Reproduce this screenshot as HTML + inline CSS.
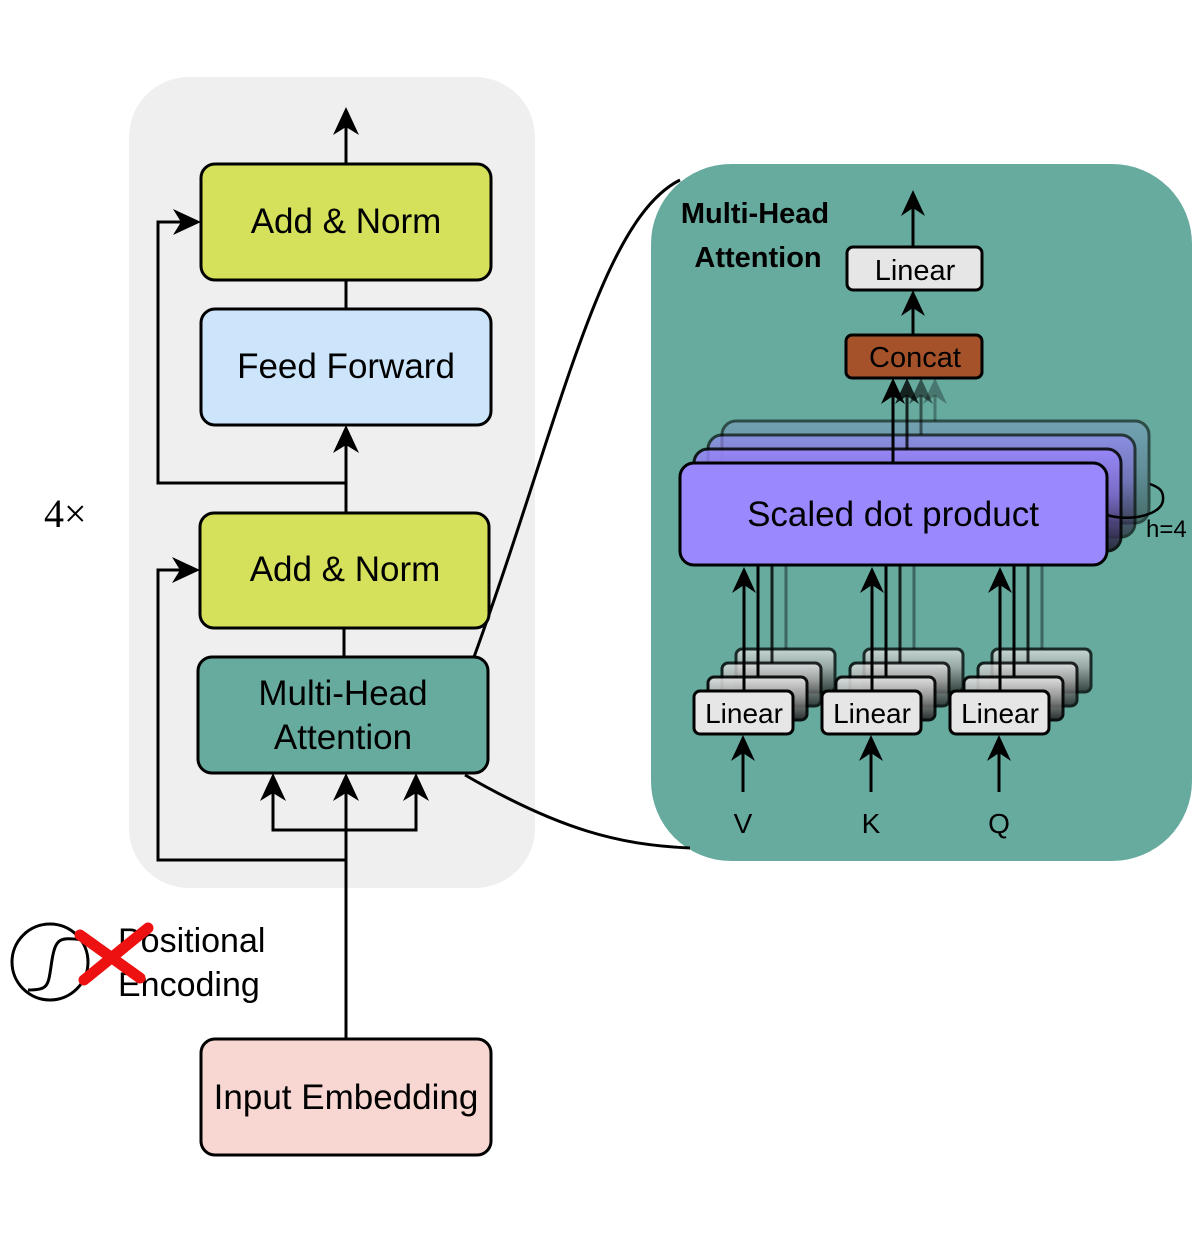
<!DOCTYPE html>
<html><head><meta charset="utf-8"><style>
html,body{margin:0;padding:0;background:#fff}
svg{display:block}
text{font-family:"Liberation Sans",sans-serif}
text.serif{font-family:"Liberation Serif",serif}
</style></head><body>
<svg width="1196" height="1233" viewBox="0 0 1196 1233" xmlns="http://www.w3.org/2000/svg">
<defs>
<linearGradient id="gp" x1="0" y1="0" x2="0" y2="1"><stop offset="0" stop-color="#9a88fe"/><stop offset="0.45" stop-color="#7d6ccc"/><stop offset="1" stop-color="#1d1a2a"/></linearGradient>
<linearGradient id="gb" x1="0" y1="0" x2="0" y2="1"><stop offset="0" stop-color="#7d9cc4"/><stop offset="0.5" stop-color="#5a7590"/><stop offset="1" stop-color="#2a3a3a"/></linearGradient>
<linearGradient id="gl" x1="0" y1="0" x2="0" y2="1"><stop offset="0" stop-color="#e6e6e6"/><stop offset="0.4" stop-color="#aaaaaa"/><stop offset="1" stop-color="#222"/></linearGradient>
</defs>
<rect x="129" y="77" width="406" height="811" rx="60" fill="#efefef"/>
<rect x="651" y="164" width="541" height="697" rx="80" fill="#67ab9f"/>
<path d="M474,657 C560,420 600,220 680,180" fill="none" stroke="#000" stroke-width="3"/>
<path d="M465,775 C560,830 620,845 690,848" fill="none" stroke="#000" stroke-width="3"/>

<g stroke="#000" stroke-width="3" fill="none">
<line x1="346" y1="164" x2="346" y2="125"/>
<line x1="346" y1="280" x2="346" y2="309"/>
<line x1="346" y1="513" x2="346" y2="440"/>
<polyline points="346,483 158,483 158,222 185,222"/>
<line x1="344" y1="628" x2="344" y2="657"/>
<polyline points="346,860 158,860 158,570 184,570"/>
<line x1="346" y1="1039" x2="346" y2="790"/>
<polyline points="273,790 273,830 416,830 416,790"/>
</g>
<g fill="#000">
<polygon points="346,107 359,135 346,127 333,135"/>
<polygon points="346,425 359,453 346,445 333,453"/>
<polygon points="201,222 173,209 181,222 173,235"/>
<polygon points="200,570 172,557 180,570 172,583"/>
<polygon points="273,773 286,801 273,793 260,801"/>
<polygon points="346,773 359,801 346,793 333,801"/>
<polygon points="416,773 429,801 416,793 403,801"/>
</g>

<g stroke="#000" stroke-width="3">
<rect x="201" y="164" width="290" height="116" rx="14" fill="#d5e15a"/>
<rect x="201" y="309" width="290" height="116" rx="14" fill="#cce5fb"/>
<rect x="200" y="513" width="289" height="115" rx="14" fill="#d5e15a"/>
<rect x="198" y="657" width="290" height="116" rx="14" fill="#67ab9f"/>
<rect x="201" y="1039" width="290" height="116" rx="14" fill="#f8d7d3"/>
</g>
<g font-size="35" text-anchor="middle" fill="#000">
<text x="346" y="233">Add &amp; Norm</text>
<text x="346" y="378">Feed Forward</text>
<text x="345" y="581">Add &amp; Norm</text>
<text x="343" y="705">Multi-Head</text>
<text x="343" y="749">Attention</text>
<text x="346" y="1109">Input Embedding</text>
</g>
<text class="serif" x="44" y="527" font-size="40">4×</text>

<circle cx="50" cy="962" r="38" fill="none" stroke="#000" stroke-width="3"/>
<path d="M28,990 C50,990 48,985 52,960 C56,935 62,938 86,940" fill="none" stroke="#000" stroke-width="3"/>
<text x="118" y="952" font-size="34">Positional</text>
<text x="118" y="996" font-size="34">Encoding</text>
<g stroke="#ee1111" stroke-width="11" stroke-linecap="round">
<line x1="80" y1="935" x2="140" y2="978"/>
<line x1="148" y1="928" x2="84" y2="980"/>
</g>

<text x="755" y="223" font-size="29" font-weight="bold" text-anchor="middle">Multi-Head</text>
<text x="758" y="267" font-size="29" font-weight="bold" text-anchor="middle">Attention</text>
<g stroke="#000" stroke-width="3"><line x1="913" y1="247" x2="913" y2="205"/><line x1="913" y1="335" x2="913" y2="305"/></g>
<polygon points="913,190 925,216 913,208 901,216" fill="#000"/>
<polygon points="913,290 925,316 913,308 901,316" fill="#000"/>
<rect x="847" y="247" width="135" height="43" rx="6" fill="#e6e6e6" stroke="#000" stroke-width="3"/>
<text x="915" y="280" font-size="29" text-anchor="middle">Linear</text>
<rect x="846" y="335" width="136" height="43" rx="6" fill="#a5522b" stroke="#000" stroke-width="3"/>
<text x="915" y="367" font-size="29" text-anchor="middle">Concat</text>

<g stroke="#000" stroke-width="3">
<rect x="722" y="421" width="427" height="102" rx="14" fill="url(#gb)" opacity="0.55"/>
<rect x="708" y="435" width="427" height="102" rx="14" fill="url(#gp)" opacity="0.65"/>
<rect x="694" y="449" width="427" height="102" rx="14" fill="url(#gp)" opacity="0.85"/>
</g>
<g stroke="#000" stroke-width="3">
<line x1="935" y1="421" x2="935" y2="395" opacity="0.3"/>
<line x1="921" y1="435" x2="921" y2="395" opacity="0.5"/>
<line x1="907" y1="449" x2="907" y2="395" opacity="0.8"/>
<line x1="893" y1="463" x2="893" y2="395"/>
</g>
<polygon points="935,378 947,404 935,396 923,404" fill="#000" opacity="0.3"/>
<polygon points="921,378 933,404 921,396 909,404" fill="#000" opacity="0.5"/>
<polygon points="907,378 919,404 907,396 895,404" fill="#000" opacity="0.8"/>
<polygon points="893,378 905,404 893,396 881,404" fill="#000"/>
<rect x="680" y="463" width="427" height="102" rx="14" fill="#9a88fe" stroke="#000" stroke-width="3"/>
<text x="893" y="526" font-size="35" text-anchor="middle">Scaled dot product</text>
<path d="M1107,515 C1130,522 1162,515 1163,500 C1164,490 1158,487 1150,484" fill="none" stroke="#000" stroke-width="2.5"/>
<text x="1146" y="537" font-size="24">h=4</text>

<g stroke="#000" stroke-width="3">
<g id="ls">
<rect x="736" y="649" width="99" height="43" rx="6" fill="url(#gl)" opacity="0.75"/>
<rect x="722" y="663" width="99" height="43" rx="6" fill="url(#gl)" opacity="0.8"/>
<rect x="708" y="677" width="99" height="43" rx="6" fill="url(#gl)" opacity="0.9"/>
<line x1="786" y1="649" x2="786" y2="565" opacity="0.4"/>
<line x1="772" y1="663" x2="772" y2="565" opacity="0.8"/>
<line x1="758" y1="677" x2="758" y2="565"/>
<line x1="744" y1="691" x2="744" y2="580"/>
<rect x="694" y="691" width="99" height="43" rx="6" fill="#e6e6e6"/>
<line x1="743" y1="792" x2="743" y2="750"/>
</g>
<use href="#ls" x="128"/>
<use href="#ls" x="256"/>
</g>
<g fill="#000">
<polygon points="744,567 756,593 744,585 732,593"/>
<polygon points="872,567 884,593 872,585 860,593"/>
<polygon points="1000,567 1012,593 1000,585 988,593"/>
<polygon points="743,735 755,761 743,753 731,761"/>
<polygon points="871,735 883,761 871,753 859,761"/>
<polygon points="999,735 1011,761 999,753 987,761"/>
</g>
<g font-size="28" text-anchor="middle">
<text x="744" y="723">Linear</text>
<text x="872" y="723">Linear</text>
<text x="1000" y="723">Linear</text>
<text x="743" y="833">V</text>
<text x="871" y="833">K</text>
<text x="999" y="833">Q</text>
</g>
</svg>
</body></html>
